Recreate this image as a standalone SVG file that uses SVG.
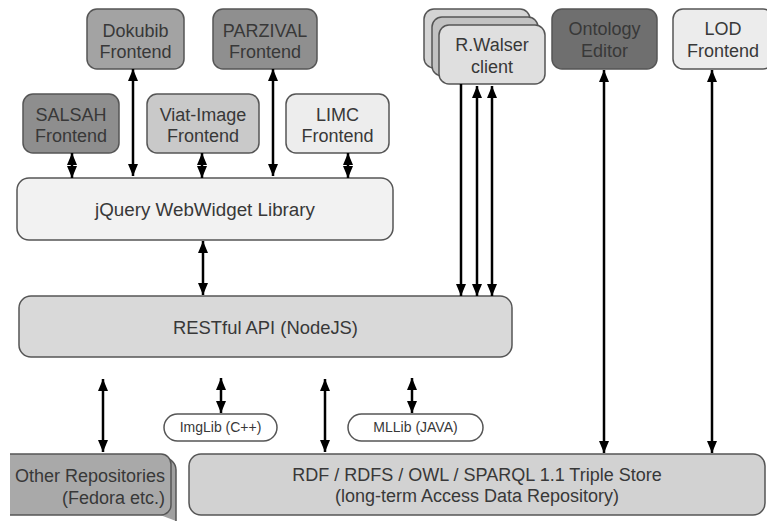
<svg xmlns="http://www.w3.org/2000/svg" width="767" height="521" viewBox="0 0 767 521">
<style>
.b{stroke:#555;stroke-width:1.5}
.t{font-family:"Liberation Sans",Arial,sans-serif;font-size:18px;fill:#383838;text-anchor:middle}
.s{font-family:"Liberation Sans",Arial,sans-serif;font-size:14px;fill:#383838;text-anchor:middle}
.c{stroke:#000;stroke-width:2.5;fill:none}
</style>
<defs>
<marker id="ah" viewBox="0 0 12 10" refX="12" refY="5" markerWidth="12" markerHeight="10" markerUnits="userSpaceOnUse" orient="auto-start-reverse">
<path d="M0,0 L12,5 L0,10 z" fill="#000"/>
</marker>
</defs>
<rect width="767" height="521" fill="#fff"/>

<g id="dokubib"><rect class="b" x="87" y="9" width="97" height="60" rx="10" fill="#a3a3a3"/><text class="t" x="135.5" y="37">Dokubib</text><text class="t" x="135.5" y="58">Frontend</text></g>
<g id="parzival"><rect class="b" x="213" y="9" width="104" height="60" rx="10" fill="#8f8f8f"/><text class="t" x="265" y="37">PARZIVAL</text><text class="t" x="265" y="58">Frontend</text></g>
<g id="salsah"><rect class="b" x="23" y="94" width="96" height="59" rx="10" fill="#8e8e8e"/><text class="t" x="71" y="121">SALSAH</text><text class="t" x="71" y="142">Frontend</text></g>
<g id="viat"><rect class="b" x="147" y="94" width="112" height="59" rx="10" fill="#c9c9c9"/><text class="t" x="203" y="121">Viat-Image</text><text class="t" x="203" y="142">Frontend</text></g>
<g id="limc"><rect class="b" x="286" y="94" width="103" height="59" rx="10" fill="#ededed"/><text class="t" x="337.5" y="121">LIMC</text><text class="t" x="337.5" y="142">Frontend</text></g>
<g id="jquery"><rect class="b" x="17" y="178" width="376" height="62" rx="12" fill="#f2f2f2"/><text class="t" x="205" y="216" style="font-size:18.8px">jQuery WebWidget Library</text></g>

<g id="rwalser">
<rect class="b" x="424" y="9" width="106" height="59" rx="10" fill="#d4d4d4"/>
<rect class="b" x="432" y="17" width="106" height="59" rx="10" fill="#c2c2c2"/>
<rect class="b" x="439" y="25" width="106" height="59" rx="10" fill="#dfdfdf"/>
<text class="t" x="492" y="51">R.Walser</text><text class="t" x="492" y="73">client</text>
</g>
<g id="ontology"><rect class="b" x="552" y="9" width="105" height="60" rx="10" fill="#6f6f6f"/><text class="t" x="604.5" y="35">Ontology</text><text class="t" x="604.5" y="57">Editor</text></g>
<g id="lod"><rect class="b" x="673" y="9" width="100" height="60" rx="10" fill="#ececec"/><text class="t" x="723" y="35">LOD</text><text class="t" x="723" y="57">Frontend</text></g>

<g id="restful"><rect class="b" x="19" y="296" width="493" height="61" rx="12" fill="#d9d9d9"/><text class="t" x="265.5" y="334" style="font-size:18.4px">RESTful API (NodeJS)</text></g>

<g id="imglib"><rect class="b" x="164" y="414" width="113" height="27" rx="13.5" fill="#fff"/><text class="s" x="220.5" y="432">ImgLib (C++)</text></g>
<g id="mllib"><rect class="b" x="348" y="414" width="135" height="27" rx="13.5" fill="#fff"/><text class="s" x="415.5" y="432">MLLib (JAVA)</text></g>

<g id="other">
<path class="b" d="M10,458 H164 a12,12 0 0 1 12,12 V521" fill="#a0a0a0"/>
<path d="M10,454 H161 a10,10 0 0 1 10,10 V505 a10,10 0 0 1 -10,10 H10 z" fill="#a9a9a9"/>
<path class="b" d="M10,454 H161 a10,10 0 0 1 10,10 V505 a10,10 0 0 1 -10,10 H10" fill="none"/>
<text class="t" x="165" y="482" style="text-anchor:end">Other Repositories</text>
<text class="t" x="165" y="504" style="text-anchor:end">(Fedora etc.)</text>
</g>
<g id="rdf"><rect class="b" x="189" y="454" width="576" height="61" rx="12" fill="#d2d2d2"/><text class="t" x="477" y="481">RDF / RDFS / OWL / SPARQL 1.1 Triple Store</text><text class="t" x="477" y="502">(long-term Access Data Repository)</text></g>

<g id="connectors">
<line class="c" x1="72" y1="153" x2="72" y2="178" marker-start="url(#ah)" marker-end="url(#ah)"/>
<line class="c" x1="133" y1="69" x2="133" y2="176" marker-start="url(#ah)" marker-end="url(#ah)"/>
<line class="c" x1="202" y1="153" x2="202" y2="178" marker-start="url(#ah)" marker-end="url(#ah)"/>
<line class="c" x1="273" y1="69" x2="273" y2="176" marker-start="url(#ah)" marker-end="url(#ah)"/>
<line class="c" x1="348" y1="153" x2="348" y2="178" marker-start="url(#ah)" marker-end="url(#ah)"/>
<line class="c" x1="203" y1="241" x2="203" y2="295" marker-start="url(#ah)" marker-end="url(#ah)"/>
<line class="c" x1="461" y1="84" x2="461" y2="296" marker-end="url(#ah)"/>
<line class="c" x1="477" y1="86" x2="477" y2="296" marker-start="url(#ah)" marker-end="url(#ah)"/>
<line class="c" x1="492" y1="86" x2="492" y2="296" marker-start="url(#ah)" marker-end="url(#ah)"/>
<line class="c" x1="604" y1="70" x2="604" y2="453" marker-start="url(#ah)" marker-end="url(#ah)"/>
<line class="c" x1="712" y1="70" x2="712" y2="453" marker-start="url(#ah)" marker-end="url(#ah)"/>
<line class="c" x1="103" y1="379" x2="103" y2="452" marker-start="url(#ah)" marker-end="url(#ah)"/>
<line class="c" x1="221" y1="378" x2="221" y2="413" marker-start="url(#ah)" marker-end="url(#ah)"/>
<line class="c" x1="325" y1="379" x2="325" y2="452" marker-start="url(#ah)" marker-end="url(#ah)"/>
<line class="c" x1="412" y1="378" x2="412" y2="413" marker-start="url(#ah)" marker-end="url(#ah)"/>
</g>
</svg>
